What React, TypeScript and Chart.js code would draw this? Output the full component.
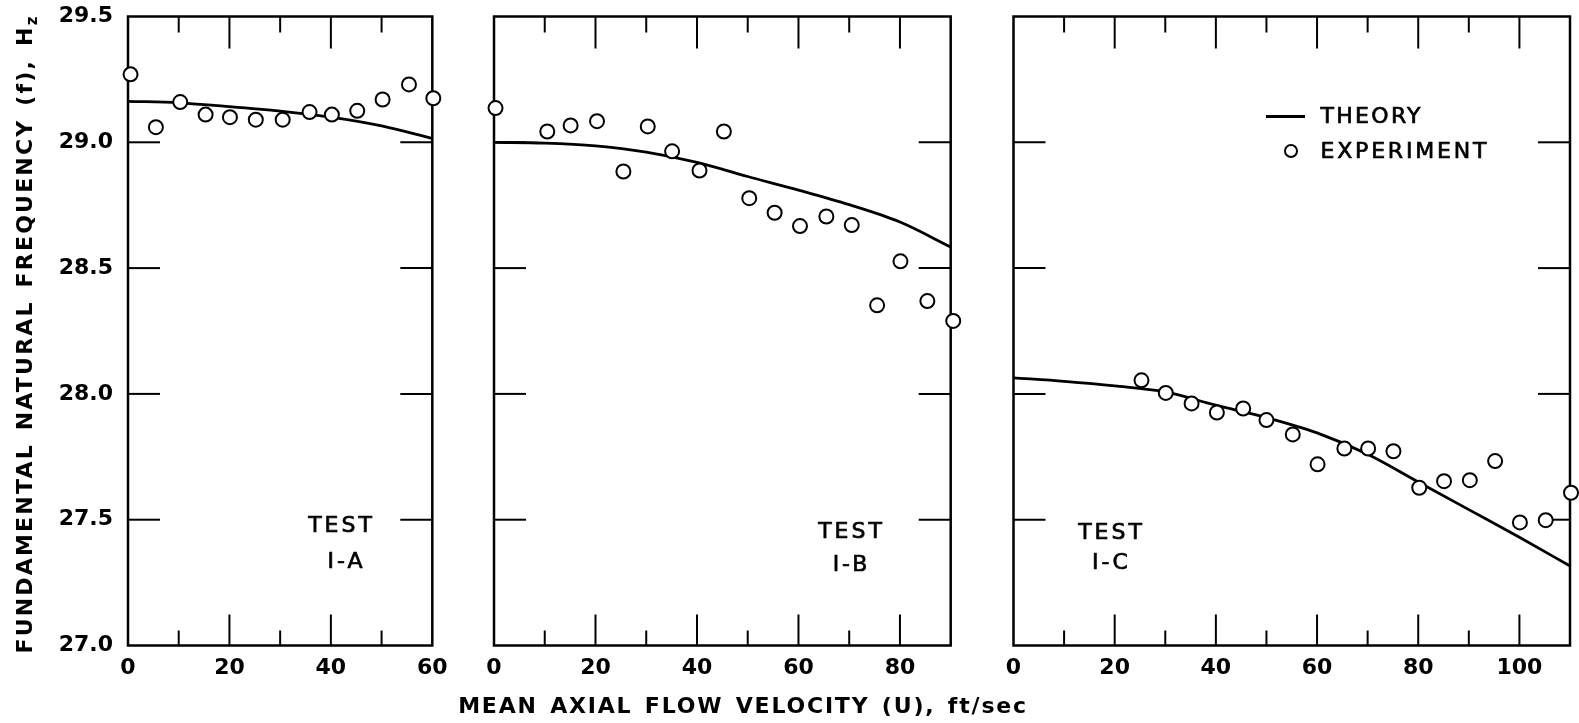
import React, { useEffect, useRef } from 'react';
import { Chart, registerables } from 'chart.js';

Chart.register(...registerables);

// ---------- data ----------
const Y_MIN = 27.0;
const Y_MAX = 29.5;
const yInnerTicks = [27.5, 28.0, 28.5, 29.0];

// Test I-A
const velExpA = [0.5, 5.5, 10.3, 15.3, 20.1, 25.2, 30.5, 35.8, 40.2, 45.2, 50.2, 55.4, 60.2];
const freqExpA = [29.27, 29.06, 29.16, 29.11, 29.10, 29.09, 29.09, 29.12, 29.11, 29.125, 29.17, 29.23, 29.175];
const velTheoryA = [0, 10, 20, 30, 40, 50, 60];
const freqTheoryA = [29.163, 29.157, 29.142, 29.124, 29.1, 29.065, 29.015];
const xTickLabelsA = [0, 20, 40, 60];

// Test I-B
const velExpB = [0.3, 10.5, 15.1, 20.3, 25.5, 30.3, 35.1, 40.5, 45.3, 50.3, 55.3, 60.3, 65.5, 70.5, 75.5, 80.1, 85.4, 90.5];
const freqExpB = [29.136, 29.043, 29.067, 29.084, 28.884, 29.063, 28.964, 28.888, 29.043, 28.778, 28.72, 28.667, 28.705, 28.671, 28.352, 28.527, 28.369, 28.29];
const velTheoryB = [0, 10, 20, 30, 40, 50, 60, 70, 80, 90];
const freqTheoryB = [29.0, 28.997, 28.986, 28.961, 28.92, 28.864, 28.81, 28.752, 28.683, 28.584];
const xTickLabelsB = [0, 20, 40, 60, 80];

// Test I-C
const velExpC = [25.3, 30.1, 35.2, 40.2, 45.4, 50.0, 55.2, 60.1, 65.4, 70.1, 75.1, 80.2, 85.1, 90.2, 95.2, 100.1, 105.2, 110.2];
const freqExpC = [28.054, 28.004, 27.962, 27.926, 27.942, 27.896, 27.839, 27.72, 27.783, 27.783, 27.772, 27.627, 27.653, 27.657, 27.733, 27.489, 27.498, 27.607];
const velTheoryC = [0, 10, 20, 30, 40, 50, 60, 70, 80, 90, 100, 110];
const freqTheoryC = [28.064, 28.05, 28.032, 28.008, 27.955, 27.906, 27.845, 27.76, 27.65, 27.54, 27.43, 27.316];
const xTickLabelsC = [0, 20, 40, 60, 80, 100];

const FONT = "'DejaVu Sans', 'Liberation Sans', sans-serif";

type Panel = {
  key: string;
  left: number;
  width: number;
  padLeft: number;
  padRight: number;
  xMax: number;
  xTicks: number[];
  showY: boolean;
  velExp: number[];
  freqExp: number[];
  velTh: number[];
  freqTh: number[];
};

const panels: Panel[] = [
  { key: 'A', left: 0, width: 460, padLeft: 0, padRight: 27.7, xMax: 60, xTicks: xTickLabelsA, showY: true,
    velExp: velExpA, freqExp: freqExpA, velTh: velTheoryA, freqTh: freqTheoryA },
  { key: 'B', left: 464, width: 510, padLeft: 30, padRight: 23.3, xMax: 90, xTicks: xTickLabelsB, showY: false,
    velExp: velExpB, freqExp: freqExpB, velTh: velTheoryB, freqTh: freqTheoryB },
  { key: 'C', left: 983, width: 596, padLeft: 30.5, padRight: 9, xMax: 110, xTicks: xTickLabelsC, showY: false,
    velExp: velExpC, freqExp: freqExpC, velTh: velTheoryC, freqTh: freqTheoryC },
];

const PLOT_TOP = 16.5;
const X_AXIS_H = 723 - 645.5;

const frameTicksPlugin = {
  id: 'frameTicks',
  beforeDatasetsDraw(chart: any) {
    const { ctx, chartArea: a, scales } = chart;
    const x = scales.x;
    const y = scales.y;
    ctx.save();
    ctx.strokeStyle = '#000';
    ctx.lineCap = 'butt';
    ctx.lineWidth = 2;
    const line = (x1: number, y1: number, x2: number, y2: number) => {
      ctx.beginPath();
      ctx.moveTo(x1, y1);
      ctx.lineTo(x2, y2);
      ctx.stroke();
    };
    for (const v of yInnerTicks) {
      const py = y.getPixelForValue(v);
      line(a.left, py, a.left + 32, py);
      line(a.right - 32, py, a.right, py);
    }
    const xMax = x.max;
    for (let v = 10; v < xMax - 0.001; v += 10) {
      const px = x.getPixelForValue(v);
      const major = v % 20 === 0;
      line(px, a.bottom, px, a.bottom - (major ? 31 : 15));
      line(px, a.top, px, a.top + (major ? 32 : 16));
    }
    ctx.lineWidth = 2.5;
    ctx.strokeRect(a.left, a.top, a.right - a.left, a.bottom - a.top);
    ctx.restore();
  },
};

function PanelChart({ p }: { p: Panel }) {
  const ref = useRef<HTMLCanvasElement | null>(null);
  useEffect(() => {
    if (!ref.current) return;
    const theoryPts = p.velTh.map((v, i) => ({ x: v, y: p.freqTh[i] }));
    const expPts = p.velExp.map((v, i) => ({ x: v, y: p.freqExp[i] }));
    const tickFont = { family: FONT, size: 22, weight: 'bold' as const };
    const chart = new Chart(ref.current, {
      type: 'scatter',
      data: {
        datasets: [
          {
            type: 'scatter',
            label: 'EXPERIMENT',
            data: expPts,
            pointRadius: 7,
            pointBorderWidth: 2,
            pointBackgroundColor: '#fff',
            pointBorderColor: '#000',
            clip: false,
            order: 0,
          } as any,
          {
            type: 'line',
            label: 'THEORY',
            data: theoryPts,
            borderColor: '#000',
            borderWidth: 2.8,
            pointRadius: 0,
            fill: false,
            cubicInterpolationMode: 'monotone',
            clip: false,
            order: 1,
          } as any,
        ],
      },
      options: {
        animation: false,
        responsive: false,
        devicePixelRatio: 1,
        events: [],
        layout: { padding: { left: p.padLeft, right: p.padRight, top: PLOT_TOP, bottom: 0 } },
        plugins: { legend: { display: false }, tooltip: { enabled: false }, title: { display: false } },
        scales: {
          x: {
            type: 'linear',
            min: 0,
            max: p.xMax,
            afterBuildTicks: (s: any) => {
              s.ticks = p.xTicks.map((v) => ({ value: v }));
            },
            afterFit: (s: any) => {
              s.height = X_AXIS_H;
              s.paddingLeft = 0;
              s.paddingRight = 0;
            },
            grid: { display: false, drawTicks: false },
            border: { display: false },
            ticks: {
              color: '#000',
              font: tickFont,
              padding: 10,
              maxRotation: 0,
              autoSkip: false,
              callback: (v: any) => String(v),
            },
          },
          y: {
            type: 'linear',
            min: Y_MIN,
            max: Y_MAX,
            afterFit: (s: any) => {
              s.width = p.showY ? 128 : 0;
              s.paddingTop = 0;
              s.paddingBottom = 0;
            },
            grid: { display: false, drawTicks: false },
            border: { display: false },
            ticks: {
              display: p.showY,
              stepSize: 0.5,
              color: '#000',
              font: tickFont,
              padding: 15,
              callback: (v: any) => Number(v).toFixed(1),
            },
          },
        },
      },
      plugins: [frameTicksPlugin],
    } as any);
    return () => chart.destroy();
  }, [p]);
  return (
    <canvas
      ref={ref}
      width={p.width}
      height={723}
      style={{ position: 'absolute', left: p.left, top: 0, width: p.width, height: 723 }}
    />
  );
}

const textBase: React.CSSProperties = {
  position: 'absolute',
  fontFamily: FONT,
  fontSize: 22,
  lineHeight: '22px',
  color: '#000',
  whiteSpace: 'nowrap',
};

function Note({ x, capTop, text, center = true, spacing = 3 }: { x: number; capTop: number; text: string; center?: boolean; spacing?: number }) {
  const style: React.CSSProperties = {
    ...textBase,
    top: capTop - 2.6,
    fontWeight: 'normal',
    letterSpacing: spacing,
    WebkitTextStroke: '0.7px #000',
  };
  if (center) {
    style.left = x - 200;
    style.width = 400;
    style.textAlign = 'center';
    style.paddingLeft = spacing;
    style.boxSizing = 'border-box';
  } else {
    style.left = x;
  }
  return <div style={style}>{text}</div>;
}

export default function App() {
  return (
    <div style={{ position: 'absolute', left: 0, top: 0, width: 1579, height: 723, background: '#fff', overflow: 'hidden' }}>
      {panels.map((p) => (
        <PanelChart key={p.key} p={p} />
      ))}

      {/* panel annotations */}
      <Note x={340} capTop={517} text="TEST" />
      <Note x={345} capTop={553} text="I-A" />
      <Note x={850} capTop={523} text="TEST" />
      <Note x={850} capTop={556} text="I-B" />
      <Note x={1110} capTop={524} text="TEST" />
      <Note x={1110} capTop={554} text="I-C" />

      {/* legend */}
      <div style={{ position: 'absolute', left: 1266, top: 115.2, width: 39, height: 3, background: '#000' }} />
      <Note x={1320.5} capTop={108} text="THEORY" center={false} spacing={2.3} />
      <div
        style={{
          position: 'absolute',
          left: 1283.5,
          top: 143.7,
          width: 14,
          height: 14,
          border: '2px solid #000',
          borderRadius: '50%',
          boxSizing: 'border-box',
          background: '#fff',
        }}
      />
      <Note x={1320.5} capTop={143} text="EXPERIMENT" center={false} spacing={2.8} />

      {/* x axis title */}
      <div
        style={{
          ...textBase,
          left: 743 - 400,
          width: 800,
          textAlign: 'center',
          top: 698 - 2.6,
          fontWeight: 'bold',
          letterSpacing: 1.8,
          wordSpacing: 3,
        }}
      >
        MEAN AXIAL FLOW VELOCITY (U), ft/sec
      </div>

      {/* y axis title */}
      <div
        style={{
          ...textBase,
          left: 25 - 400,
          top: 334 - 11,
          width: 800,
          height: 22,
          textAlign: 'center',
          fontWeight: 'bold',
          letterSpacing: 2.2,
          wordSpacing: 3,
          transform: 'rotate(-90deg)',
          transformOrigin: '50% 50%',
        }}
      >
        FUNDAMENTAL NATURAL FREQUENCY (f), H<span style={{ fontSize: 15, verticalAlign: -5 }}>z</span>
      </div>
    </div>
  );
}
